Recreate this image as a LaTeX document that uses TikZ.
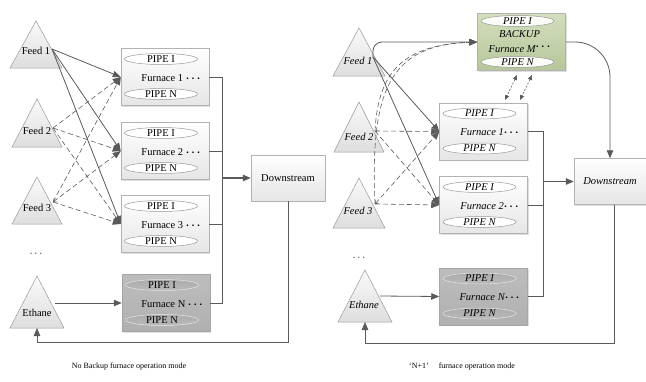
\documentclass[tikz,border=0pt]{standalone}
\usepackage{fontspec}
\setmainfont{Liberation Serif}
\usetikzlibrary{shapes.geometric,arrows.meta,calc,shadows}
\definecolor{lc}{HTML}{5A5A5A}
\definecolor{greenA}{HTML}{D3DEBD}
\definecolor{greenB}{HTML}{B6C79A}
\newcommand\trifeed[4]{% apex x, apex y, base y, half width
  \path[tri] (#1-#4,#3) -- (#1,#2) -- (#1+#4,#3) -- cycle;}
\newcommand\furnbox[7]{% name, x, y, label, box style, pipe style, font
  \node[#5] (#1) at (#2,#3) {};
  \node[#6,font=#7] (#1a) at ($(#1)+(-4,-18)$) {PIPE I};
  \node[#6,font=#7] (#1b) at ($(#1)+(-4,17)$) {PIPE N};
  \node[font=#7, inner sep=0] (#1t) at ($(#1)+(6,1)$) {#4};}
\tikzset{
  line/.style={draw=lc, line width=0.8pt},
  arr/.style={line, -{Triangle[length=8pt,width=6.5pt]}},
  darr/.style={draw=lc, line width=0.6pt, dash pattern=on 5pt off 3pt, -{Triangle[length=8pt,width=6.5pt]}},
  ddarr/.style={draw=lc, line width=0.6pt, dash pattern=on 2pt off 1.5pt, {Triangle[length=5pt,width=4pt]}-{Triangle[length=5pt,width=4pt]}},
  tri/.style={draw=gray!80, line width=0.5pt, top color=gray!4, bottom color=gray!26},
  fbox/.style={draw=gray!60, line width=0.5pt, top color=white, bottom color=gray!20, minimum width=88pt, minimum height=57pt, inner sep=0,
    drop shadow={shadow xshift=1.2pt, shadow yshift=-1.2pt, opacity=0.25}},
  dbox/.style={fbox, top color=gray!52, bottom color=gray!62, draw=gray!70},
  gbox/.style={fbox, top color=greenA, bottom color=greenB, draw=gray!60},
  dsbox/.style={fbox, minimum width=74pt, minimum height=46pt},
  pipe/.style={ellipse, draw=gray!80, line width=0.5pt, fill=white, minimum width=73pt, minimum height=11pt, inner sep=0},
  dpipe/.style={pipe, draw=gray!25, top color=gray!65, bottom color=gray!55},
  gpipe/.style={pipe, fill=white!90!greenA},
  lab/.style={inner sep=0},
}
\begin{document}
\begin{tikzpicture}[x=1pt,y=-1pt]
\useasboundingbox (0,0) rectangle (646,381);
\def\fa{\fontsize{10.5}{12}\selectfont}
\def\fb{\fontsize{10.5}{12}\selectfont\itshape}
\def\dts{{\boldmath$\cdots$}}
% ===================== LEFT =====================
\trifeed{36}{21}{68}{26}
\trifeed{37}{99}{147}{25}
\trifeed{37}{177}{224}{25}
\trifeed{37}{276}{328}{27}
\node[lab,font=\fa] (lf1) at (36,51) {Feed 1};
\node[lab,font=\fa] (lf2) at (37,131) {Feed 2};
\node[lab,font=\fa] (lf3) at (37,208) {Feed 3};
\node[lab,font=\fa] (leth) at (37,313) {Ethane};
\node[lab,font=\fa] (ldots) at (36,254) {$\cdots$};
\coordinate (lo1) at (52,49);
\coordinate (lo2) at (53,128);
\coordinate (lo3) at (53,202);
\coordinate (loe) at (55,303);
\coordinate (lebase) at (37,328);
\furnbox{LF1}{165}{77}{Furnace 1 \dts}{fbox}{pipe}{\fa}
\furnbox{LF2}{165}{151}{Furnace 2 \dts}{fbox}{pipe}{\fa}
\furnbox{LF3}{165}{224}{Furnace 3 \dts}{fbox}{pipe}{\fa}
\furnbox{LFN}{166}{303}{Furnace N \dts}{dbox}{dpipe}{\fa}
\node[dsbox,font=\fa] (LDS) at (288,178) {Downstream};
% feeds -> furnaces
\draw[darr] (lo2) -- (LF1.west);
\draw[darr] (lo2) -- (LF2.west);
\draw[darr] (lo2) -- (LF3.west);
\draw[darr] (lo3) -- (LF1.west);
\draw[darr,{Straight Barb[length=3pt,width=5pt]}-{Triangle[length=8pt,width=6.5pt]}] (lo3) -- (LF2.west);
\draw[darr] (lo3) -- (LF3.west);
\draw[arr] (lo1) -- (LF1.west);
\draw[arr] (lo1) -- (LF2.west);
\draw[arr] (lo1) -- (LF3.west);
\draw[arr] (loe) -- (LFN.west);
% bus
\coordinate (lbusT) at (222,77);
\coordinate (lbusB) at (222,303);
\draw[line] (LF1.east) -- (lbusT) -- (lbusB) -- (LFN.east);
\draw[line] (LF2.east) -- (LF2.east -| lbusT);
\draw[line] (LF3.east) -- (LF3.east -| lbusT);
\draw[arr, line width=1.3pt] (LDS.west -| lbusT) -- (LDS.west);
\coordinate (lfb) at (288,342);
\draw[arr] (LDS.south) -- (lfb) -| (lebase);
\node[lab,font=\fontsize{8}{10}\selectfont] (lcap) at (129,367) {No Backup furnace operation mode};
% ===================== RIGHT =====================
\trifeed{359}{28}{76}{26}
\trifeed{359}{102}{152}{25}
\trifeed{359}{178}{228}{26}
\trifeed{365}{270}{322}{27}
\node[lab,font=\fb] (rf1) at (358,61) {Feed 1};
\node[lab,font=\fb] (rf2) at (359,137) {Feed 2};
\node[lab,font=\fb] (rf3) at (358,211) {Feed 3};
\node[lab,font=\fb] (reth) at (364,305) {Ethane};
\node[lab,font=\fa] (rdots) at (359,258) {$\cdots$};
\coordinate (ro1) at (373,57);
\coordinate (ro2) at (375,131);
\coordinate (ro3) at (375,204);
\coordinate (roe) at (380,296);
\coordinate (rebase) at (365,322);
\node[gbox] (BK) at (521.5,42) {};
\node[gpipe,font=\fb] (BKa) at ($(BK)+(-4,-21)$) {PIPE I};
\node[gpipe,font=\fb] (BKb) at ($(BK)+(-4,20)$) {PIPE N};
\node[lab,font=\fb] (BKt1) at ($(BK)+(-2,-8)$) {BACKUP};
\node[lab,font=\fb] (BKt2) at ($(BK)+(-2,6)$) {Furnace M\raisebox{3pt}{\dts}};
\furnbox{RF1}{483.5}{131.5}{Furnace 1\dts}{fbox}{pipe}{\fb}
\furnbox{RF2}{483.5}{205}{Furnace 2\dts}{fbox}{pipe}{\fb}
\furnbox{RFN}{483.5}{296.5}{Furnace N\dts}{dbox}{dpipe}{\fb}
\node[dsbox,font=\fb,minimum width=72pt] (RDS) at (610,181.5) {Downstream};
% feeds -> backup
\draw[darr] (ro3) .. controls (370,90) and (390,45) .. (BK.west);
\draw[darr] (ro2) .. controls (378,70) and (405,45) .. (BK.west);
\draw[arr, rounded corners=9pt] (ro1) |- (BK.west);
% feeds -> furnaces
\draw[darr] (ro2) -- (RF1.west);
\draw[darr] (ro2) -- (RF2.west);
\draw[darr,{Straight Barb[length=3pt,width=5pt]}-{Triangle[length=8pt,width=6.5pt]}] (ro3) -- (RF1.west);
\draw[darr] (ro3) -- (RF2.west);
\draw[arr] (ro1) -- (RF1.west);
\draw[arr] (ro1) -- (RF2.west);
\draw[arr] (roe) -- (RFN.west);
% backup <-> furnace 1
\coordinate (bd1a) at (517,75);
\coordinate (bd1b) at (505,100);
\coordinate (bd2a) at (532,75);
\coordinate (bd2b) at (520,100);
\draw[ddarr] (bd1a) -- (bd1b);
\draw[ddarr] (bd2a) -- (bd2b);
% bus
\coordinate (rbusT) at (543,131.5);
\coordinate (rbusB) at (543,296.5);
\draw[line] (RF1.east) -- (rbusT) -- (rbusB) -- (RFN.east);
\draw[line] (RF2.east) -- (RF2.east -| rbusT);
\draw[arr, line width=1.3pt] (RDS.west -| rbusT) -- (RDS.west);
\draw[arr, rounded corners=35pt] (BK.east) -| (RDS.north);
\coordinate (rfb) at (614,343);
\draw[arr] (RDS.south -| rfb) -- (rfb) -| (rebase);
\node[lab,font=\fontsize{8}{10}\selectfont] (rcap) at (462,367) {‘N+1’\hspace{10pt}furnace operation mode};
\end{tikzpicture}
\end{document}
